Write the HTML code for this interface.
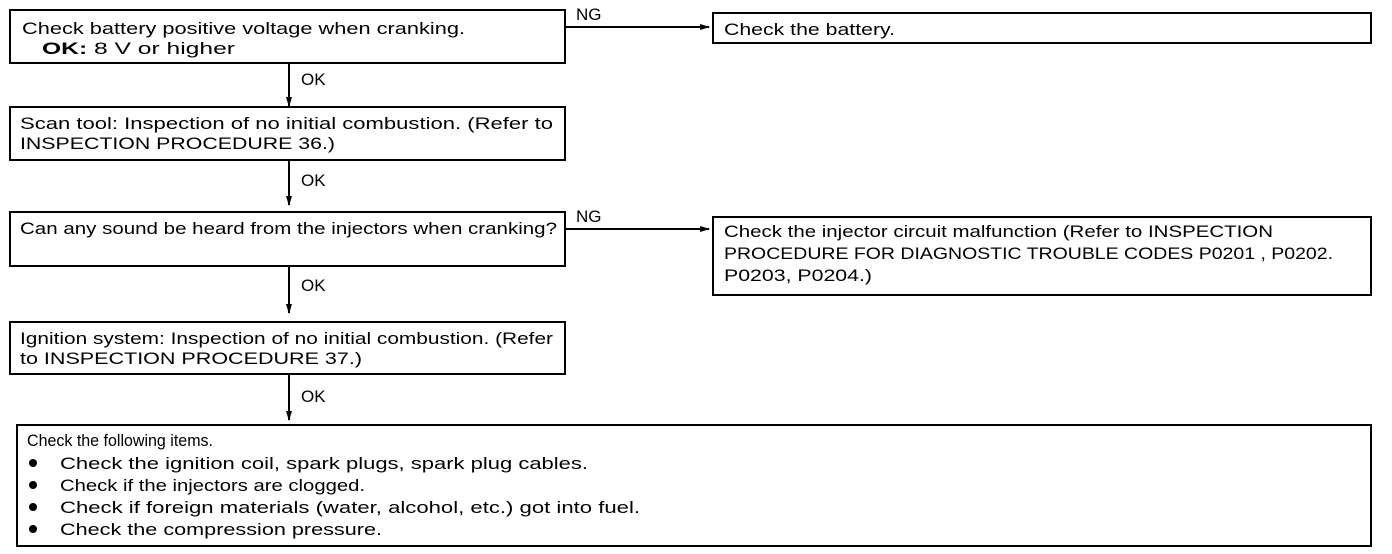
<!DOCTYPE html>
<html><head><meta charset="utf-8"><style>
html,body{margin:0;padding:0;background:#fff;}
svg{display:block;}
text{font-family:"Liberation Sans",Arial,sans-serif;font-size:17px;fill:#000;}
</style></head><body>
<svg width="1392" height="554" viewBox="0 0 1392 554" xmlns="http://www.w3.org/2000/svg">
<defs><marker id="a" markerWidth="10" markerHeight="8" refX="9" refY="4" orient="auto" markerUnits="userSpaceOnUse"><path d="M0,1 L10,4 L0,7 Z" fill="#000"/></marker></defs>
<g fill="none" stroke="#000" stroke-width="2">
<rect x="10" y="10" width="555" height="53"/>
<rect x="10" y="107" width="555" height="53"/>
<rect x="10" y="212" width="555" height="54"/>
<rect x="10" y="322" width="555" height="52"/>
<rect x="17" y="425" width="1354" height="121"/>
<rect x="713" y="13" width="658" height="30"/>
<rect x="713" y="217" width="658" height="78"/>
</g>
<g stroke="#000" stroke-width="2" marker-end="url(#a)">
<line x1="289" y1="64" x2="289" y2="106"/>
<line x1="289" y1="161" x2="289" y2="205"/>
<line x1="289" y1="267" x2="289" y2="313"/>
<line x1="289" y1="375" x2="289" y2="420"/>
<line x1="566" y1="27" x2="709" y2="27"/>
<line x1="566" y1="229" x2="709" y2="229"/>
</g>
<text x="576" y="20">NG</text>
<text x="576" y="222">NG</text>
<text x="301" y="85">OK</text>
<text x="301" y="186">OK</text>
<text x="301" y="291">OK</text>
<text x="301" y="402">OK</text>
<text x="22" y="34" textLength="443" lengthAdjust="spacingAndGlyphs">Check battery positive voltage when cranking.</text>
<text x="42" y="54" textLength="193" lengthAdjust="spacingAndGlyphs"><tspan font-weight="bold">OK:</tspan> 8 V or higher</text>
<text x="20" y="129" textLength="533" lengthAdjust="spacingAndGlyphs">Scan tool: Inspection of no initial combustion. (Refer to</text>
<text x="20" y="149" textLength="315" lengthAdjust="spacingAndGlyphs">INSPECTION PROCEDURE 36.)</text>
<text x="20" y="234" textLength="537" lengthAdjust="spacingAndGlyphs">Can any sound be heard from the injectors when cranking?</text>
<text x="20" y="344" textLength="533" lengthAdjust="spacingAndGlyphs">Ignition system: Inspection of no initial combustion. (Refer</text>
<text x="20" y="364" textLength="342" lengthAdjust="spacingAndGlyphs">to INSPECTION PROCEDURE 37.)</text>
<text x="724" y="35" textLength="171" lengthAdjust="spacingAndGlyphs">Check the battery.</text>
<text x="724" y="237" textLength="549" lengthAdjust="spacingAndGlyphs">Check the injector circuit malfunction (Refer to  INSPECTION</text>
<text x="724" y="259" textLength="609" lengthAdjust="spacingAndGlyphs">PROCEDURE FOR DIAGNOSTIC TROUBLE CODES P0201 , P0202.</text>
<text x="724" y="281" textLength="148" lengthAdjust="spacingAndGlyphs">P0203,  P0204.)</text>
<text x="27" y="446" textLength="186" lengthAdjust="spacingAndGlyphs">Check the following items.</text>
<g fill="#000"><circle cx="33" cy="463" r="4"/><circle cx="33" cy="485" r="4"/><circle cx="33" cy="507" r="4"/><circle cx="33" cy="529" r="4"/></g>
<text x="60" y="469" textLength="528" lengthAdjust="spacingAndGlyphs">Check the ignition coil, spark plugs, spark plug cables.</text>
<text x="60" y="491" textLength="305" lengthAdjust="spacingAndGlyphs">Check if the injectors are clogged.</text>
<text x="60" y="513" textLength="580" lengthAdjust="spacingAndGlyphs">Check if foreign materials (water, alcohol, etc.) got into fuel.</text>
<text x="60" y="535" textLength="322" lengthAdjust="spacingAndGlyphs">Check the compression pressure.</text>
</svg>
</body></html>
